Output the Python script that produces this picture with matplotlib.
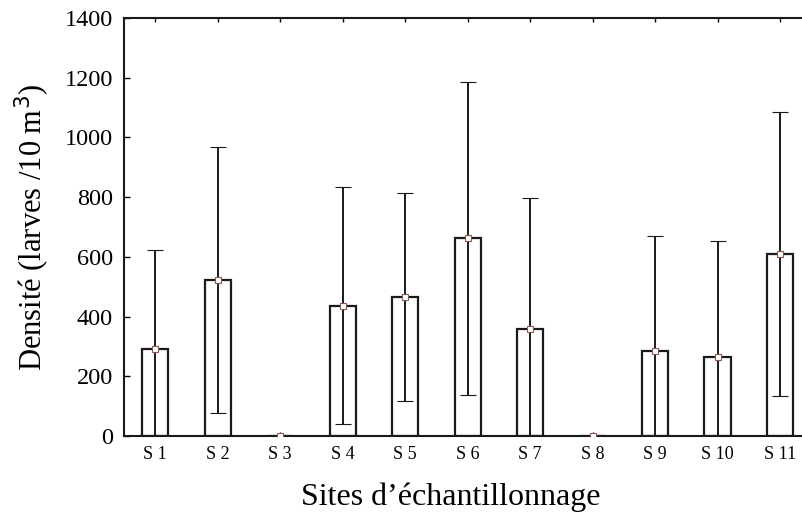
import matplotlib
matplotlib.use("Agg")
import matplotlib.pyplot as plt
import numpy as np

# sites and mean density (larvae / 10 m3) with standard deviation
sites = ["S 1", "S 2", "S 3", "S 4", "S 5", "S 6", "S 7", "S 8", "S 9", "S 10", "S 11"]
mean_density = [293, 522, 0, 437, 465, 662, 358, 0, 286, 266, 609]
sd_density = [330, 446, 0, 398, 348, 523, 438, 0, 385, 388, 476]

plt.rcParams["font.family"] = ["Liberation Serif", "DejaVu Serif"]

fig = plt.figure(figsize=(8.03, 5.15), dpi=100)
ax = fig.add_axes([0.1544, 0.1534, 0.856, 0.8116])

x = np.arange(len(sites))
ax.bar(x, mean_density, width=0.42, color="white", edgecolor="#1a1a1a", linewidth=1.6, zorder=2)
ax.errorbar(x, mean_density, yerr=sd_density, fmt="s", ms=5, mfc="white", mec="#8a5a50",
            mew=0.8, ecolor="#1a1a1a", elinewidth=1.4, capsize=6, capthick=1.4, zorder=3)

ax.set_xlim(-0.5, len(sites) - 0.5)
ax.set_ylim(0, 1400)
ax.set_yticks(np.arange(0, 1401, 200))
ax.set_xticks(x)
ax.set_xticklabels(sites, fontsize=13)
ax.tick_params(axis="y", direction="in", length=4, labelsize=17.5, width=1, pad=8)
ax.tick_params(axis="x", direction="in", length=3, top=True, width=1, pad=7)
for s in ax.spines.values():
    s.set_linewidth(1.5)
    s.set_color("#1a1a1a")

ax.set_ylabel("Densité (larves /10 m$^3$)", fontsize=22, labelpad=9)
ax.set_xlabel("Sites d\u2019échantillonnage", fontsize=23)
ax.xaxis.set_label_coords(0.476, -0.112)

fig.savefig("out.png", dpi=100)
